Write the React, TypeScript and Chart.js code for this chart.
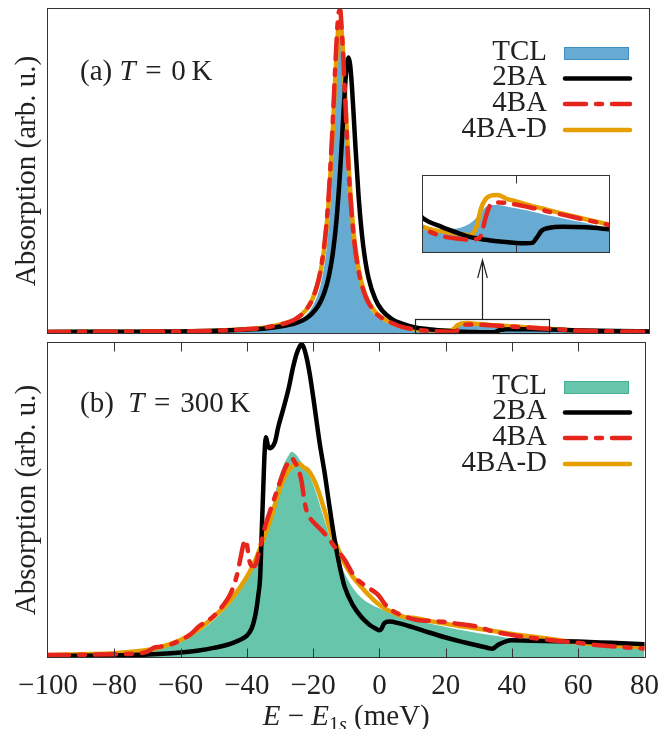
import React, { useEffect, useRef } from 'react';
import { Chart, registerables } from 'chart.js';
Chart.register(...registerables);

// ---------------- DATA ----------------
// Panel (a): T = 0 K  (energy grid in meV, absorption in arb. units)
const aE = [-100, -80, -60, -50, -40, -35, -30, -26, -23, -21, -19, -18, -17, -16, -15, -14.5, -14, -13.5, -13, -12.5, -12, -11.5, -11, -10.5, -10, -9.5, -9, -8.5, -8, -7, -6, -5, -4, -2, 0, 3, 6, 10, 14, 18, 20, 21.5, 22.5, 23.5, 24.5, 26, 28, 30, 32, 33.5, 34.5, 35.5, 37, 40, 45, 50, 60, 70, 80];
const aTCL = [0.002, 0.003, 0.004, 0.006, 0.010, 0.014, 0.021, 0.0328, 0.0528, 0.0779, 0.125, 0.165, 0.225, 0.319, 0.465, 0.563, 0.674, 0.789, 0.883, 0.929, 0.908, 0.83, 0.721, 0.606, 0.502, 0.414, 0.343, 0.286, 0.241, 0.175, 0.132, 0.102, 0.0813, 0.0547, 0.0392, 0.0258, 0.0182, 0.0105, 0.0105, 0.0114, 0.0137, 0.0173, 0.0209, 0.0236, 0.0249, 0.0249, 0.024, 0.0229, 0.0218, 0.0209, 0.0202, 0.0195, 0.0186, 0.017, 0.0141, 0.011, 0.006, 0.005, 0.004];
const a2BA = [0.003, 0.004, 0.005, 0.007, 0.011, 0.014, 0.021, 0.030, 0.043, 0.0589, 0.085, 0.105, 0.132, 0.17, 0.225, 0.262, 0.306, 0.36, 0.425, 0.502, 0.589, 0.68, 0.765, 0.827, 0.85, 0.827, 0.765, 0.68, 0.589, 0.425, 0.306, 0.225, 0.17, 0.105, 0.0702, 0.043, 0.0289, 0.017, 0.0119, 0.0078, 0.006, 0.0051, 0.0047, 0.0042, 0.0038, 0.0033, 0.0029, 0.0024, 0.0022, 0.0024, 0.0056, 0.0096, 0.0112, 0.0119, 0.0116, 0.0105, 0.008, 0.006, 0.005];
const a4BA = [0.003, 0.004, 0.005, 0.007, 0.012, 0.017, 0.027, 0.042, 0.068, 0.101, 0.163, 0.216, 0.295, 0.414, 0.591, 0.70, 0.814, 0.915, 0.985, 0.997, 0.932, 0.836, 0.723, 0.612, 0.513, 0.429, 0.361, 0.305, 0.259, 0.192, 0.147, 0.116, 0.093, 0.063, 0.046, 0.031, 0.019, 0.011, 0.0065, 0.0047, 0.0042, 0.0047, 0.0069, 0.0177, 0.0249, 0.0263, 0.026, 0.0251, 0.024, 0.0231, 0.0227, 0.022, 0.0209, 0.0191, 0.016, 0.013, 0.007, 0.005, 0.004];
const a4BAD = [0.003, 0.004, 0.005, 0.007, 0.012, 0.017, 0.027, 0.042, 0.0675, 0.0996, 0.16, 0.21, 0.285, 0.398, 0.565, 0.668, 0.778, 0.877, 0.946, 0.964, 0.924, 0.84, 0.734, 0.625, 0.527, 0.442, 0.372, 0.314, 0.268, 0.199, 0.152, 0.119, 0.0955, 0.065, 0.047, 0.031, 0.02, 0.0119, 0.0092, 0.0076, 0.0069, 0.0119, 0.0231, 0.0285, 0.0303, 0.0308, 0.0285, 0.027, 0.0254, 0.0242, 0.0236, 0.0229, 0.0218, 0.0197, 0.0164, 0.0133, 0.007, 0.005, 0.004];

// Inset / zoom window of panel (a)
const zoomX = [10, 50];
const zoomY = [-0.003, 0.042];
const insetTicks = [30];

// Panel (b): T = 300 K
const bTclE = [-100, -90, -80, -70, -65, -60, -55, -50, -45, -40, -37, -35, -32.5, -30.5, -29, -27.5, -26.5, -25.5, -24.5, -23, -21.5, -20.5, -19, -17, -14.6, -12.5, -10.5, -8, -5, -2, 0, 3, 5.4, 10, 15, 19.4, 25, 30, 35, 39.4, 45, 50, 59.3, 70, 80];
const bTclV = [0.005, 0.008, 0.011, 0.02, 0.032, 0.048, 0.077, 0.117, 0.17, 0.245, 0.315, 0.37, 0.47, 0.564, 0.61, 0.64, 0.654, 0.648, 0.635, 0.61, 0.585, 0.564, 0.52, 0.45, 0.373, 0.315, 0.266, 0.22, 0.185, 0.165, 0.155, 0.142, 0.134, 0.12, 0.107, 0.097, 0.085, 0.076, 0.068, 0.06, 0.054, 0.05, 0.045, 0.04, 0.035];
const b2baE = [-100, -90, -80, -70, -60, -55, -50, -45, -42, -40, -38.5, -37.5, -37, -36.5, -36, -35.5, -35, -34.6, -34.2, -33.7, -33, -32.5, -31.5, -30.5, -29, -27.5, -26, -25, -24, -23.5, -23, -22, -21, -20, -18, -16.5, -15, -13.5, -12, -10.5, -8, -5.5, -3, -1, 0, 0.5, 1.5, 3, 6, 10, 15, 20, 25, 30, 33, 34, 35, 36, 38, 40, 45, 50, 60, 70, 80];
const b2baV = [0.004, 0.004, 0.005, 0.008, 0.014, 0.02, 0.029, 0.042, 0.055, 0.068, 0.092, 0.13, 0.16, 0.2, 0.25, 0.40, 0.55, 0.66, 0.70, 0.675, 0.665, 0.667, 0.685, 0.733, 0.79, 0.85, 0.925, 0.965, 0.99, 0.995, 0.99, 0.955, 0.9, 0.83, 0.68, 0.585, 0.475, 0.373, 0.29, 0.224, 0.165, 0.128, 0.103, 0.09, 0.085, 0.088, 0.108, 0.113, 0.107, 0.095, 0.078, 0.062, 0.048, 0.036, 0.028, 0.026, 0.032, 0.040, 0.049, 0.053, 0.052, 0.051, 0.049, 0.045, 0.041];
const b4baE = [-100, -90, -80, -74, -71, -69.5, -68, -66, -62.5, -60, -57, -54.5, -50, -47.5, -45, -43, -42, -41, -40.5, -40, -39.3, -38.5, -37.7, -36, -34.5, -32.5, -30.5, -28.5, -27, -26.5, -25.5, -24.5, -23.5, -22.5, -21.5, -21, -19.5, -17.5, -15.5, -13.5, -10.5, -7.5, -4, -0.6, 2.4, 5.4, 8, 11.4, 15, 19.4, 24, 29.4, 34.4, 39, 44.4, 50, 55, 59.3, 64, 69.3, 74, 80];
const b4baV = [0.006, 0.007, 0.009, 0.011, 0.014, 0.02, 0.03, 0.033, 0.042, 0.054, 0.072, 0.097, 0.13, 0.16, 0.2, 0.26, 0.31, 0.36, 0.373, 0.36, 0.31, 0.29, 0.29, 0.35, 0.415, 0.48, 0.542, 0.6, 0.628, 0.633, 0.62, 0.60, 0.56, 0.49, 0.45, 0.443, 0.425, 0.404, 0.38, 0.351, 0.31, 0.256, 0.225, 0.2, 0.16, 0.139, 0.128, 0.118, 0.115, 0.112, 0.105, 0.097, 0.081, 0.072, 0.063, 0.056, 0.05, 0.046, 0.04, 0.035, 0.031, 0.027];
const b4badE = [-100, -90, -80, -70, -65, -60, -55, -50, -45, -40, -37, -35, -32.5, -30.5, -28.5, -26.5, -25, -24, -23, -21.5, -20, -18.5, -16.5, -14.5, -12.5, -10.5, -8, -5.5, -3, -0.6, 2.4, 5, 7.4, 11.4, 15, 19.4, 24, 29.4, 35, 40, 44.4, 50, 55, 59.3, 65, 70, 75, 80];
const b4badV = [0.006, 0.009, 0.012, 0.022, 0.035, 0.054, 0.085, 0.128, 0.18, 0.255, 0.32, 0.375, 0.45, 0.521, 0.575, 0.605, 0.615, 0.614, 0.605, 0.595, 0.57, 0.532, 0.465, 0.392, 0.345, 0.298, 0.255, 0.224, 0.195, 0.171, 0.15, 0.138, 0.128, 0.123, 0.115, 0.107, 0.099, 0.091, 0.082, 0.073, 0.067, 0.06, 0.053, 0.046, 0.041, 0.037, 0.034, 0.031];

// Axis / labels
const xMin = -100;
const xMax = 80;
const xStep = 20;
const xTickValues = [-80, -60, -40, -20, 0, 20, 40, 60];
const legendLabels = ['TCL', '2BA', '4BA', '4BA-D'];
const yTitle = 'Absorption (arb. u.)';
const panelALabel: [string, boolean][] = [['(a) ', false], ['T', true], ['\u2004=\u20040\u2009K', false]];
const panelBLabel: [string, boolean][] = [['(b)  ', false], ['T', true], ['\u2004=\u2004300\u2009K', false]];

// ---------------- STYLE ----------------
const SERIF = '"Liberation Serif", "Times New Roman", Times, serif';
const FS = 29;
const TEXT = '#222222';
const FRAME = '#333333';
const C_TCL_A = '#67aad2';
const C_TCL_A_B = '#3f8fc4';
const C_TCL_B = '#66c5ab';
const C_TCL_B_B = '#45b192';
const C_RED = '#e6261c';
const C_ORANGE = '#e69f00';
const C_BLACK = '#000000';
const LW = 4.5;
const RED_DASH = [21, 10, 6, 10];

function pts(E: number[], V: number[]) {
  return E.map((x, i) => ({ x, y: V[i] }));
}

function datasets(tcl: any[], tclColor: string, ba2: any[], ba4: any[], ba4d: any[]) {
  const base = { pointRadius: 0, pointHoverRadius: 0, cubicInterpolationMode: 'monotone' as const };
  return [
    { ...base, label: '4BA', data: ba4, borderColor: C_RED, borderWidth: LW, borderDash: RED_DASH, borderCapStyle: 'round', fill: false, order: 0 },
    { ...base, label: '2BA', data: ba2, borderColor: C_BLACK, borderWidth: LW, borderCapStyle: 'round', borderJoinStyle: 'round', fill: false, order: 1 },
    { ...base, label: '4BA-D', data: ba4d, borderColor: C_ORANGE, borderWidth: LW, borderCapStyle: 'round', fill: false, order: 2 },
    { ...base, label: 'TCL', data: tcl, borderColor: 'rgba(0,0,0,0)', borderWidth: 0, backgroundColor: tclColor, fill: 'start', order: 3 },
  ];
}

function drawMixed(ctx: CanvasRenderingContext2D, parts: [string, boolean][], x: number, y: number, size: number) {
  let cx = x;
  for (const [t, it] of parts) {
    ctx.font = `${it ? 'italic ' : ''}${size}px ${SERIF}`;
    ctx.fillText(t, cx, y);
    cx += ctx.measureText(t).width;
  }
}

type Decor = {
  ticks?: number[];
  tickLen?: number;
  legend?: { fill: string; border: string };
  label?: [string, boolean][];
  labelY?: number;
  zoom?: boolean;
  xTitle?: boolean;
};

const LEG_OFFS = [44.5, 69.5, 95, 121];

function decorPlugin(d: Decor) {
  return {
    id: 'decor',
    afterDatasetsDraw(chart: any) {
      const { ctx, chartArea: a, scales } = chart;
      const xs = scales.x;
      const ys = scales.y;
      ctx.save();
      ctx.setLineDash([]);
      ctx.strokeStyle = FRAME;
      ctx.lineWidth = 1;
      const L = Math.round(a.left) - 0.5;
      const T = Math.round(a.top) - 0.5;
      const R = Math.round(a.right) + 0.5;
      const B = Math.round(a.bottom) + 0.5;
      ctx.strokeRect(L, T, R - L, B - T);
      if (d.ticks) {
        const len = d.tickLen || 9;
        ctx.beginPath();
        for (const v of d.ticks) {
          const px = Math.round(xs.getPixelForValue(v)) + 0.5;
          ctx.moveTo(px, T); ctx.lineTo(px, T + len);
          ctx.moveTo(px, B); ctx.lineTo(px, B - len);
        }
        ctx.stroke();
      }
      if (d.zoom) {
        const x0 = xs.getPixelForValue(zoomX[0]);
        const x1 = xs.getPixelForValue(zoomX[1]);
        const yt = ys.getPixelForValue(zoomY[1]);
        ctx.strokeStyle = '#222';
        ctx.lineWidth = 1.2;
        ctx.strokeRect(Math.round(x0) + 0.5, Math.round(yt) + 0.5, Math.round(x1 - x0), Math.round(a.bottom - yt));
        const ax = Math.round(xs.getPixelForValue(insetTicks[0])) + 0.5;
        const tip = 260;
        ctx.beginPath();
        ctx.moveTo(ax, yt); ctx.lineTo(ax, tip);
        ctx.moveTo(ax - 4.8, tip + 18); ctx.lineTo(ax, tip); ctx.lineTo(ax + 4.8, tip + 18);
        ctx.stroke();
      }
      if (d.legend) {
        ctx.fillStyle = TEXT;
        ctx.textAlign = 'right';
        ctx.textBaseline = 'alphabetic';
        ctx.font = `${FS}px ${SERIF}`;
        legendLabels.forEach((n, i) => ctx.fillText(n, 547, a.top + LEG_OFFS[i] + 6.5));
        const cy0 = a.top + LEG_OFFS[0];
        ctx.fillStyle = d.legend.fill;
        ctx.fillRect(564, cy0 - 6.5, 65, 13);
        ctx.strokeStyle = d.legend.border;
        ctx.lineWidth = 1;
        ctx.strokeRect(564.5, cy0 - 6, 64, 12);
        const line = (i: number, color: string, dash: number[]) => {
          const cy = a.top + LEG_OFFS[i];
          ctx.beginPath();
          ctx.setLineDash(dash);
          ctx.lineCap = 'round';
          ctx.strokeStyle = color;
          ctx.lineWidth = LW;
          ctx.moveTo(565, cy); ctx.lineTo(630, cy);
          ctx.stroke();
        };
        line(1, C_BLACK, []);
        line(2, C_RED, RED_DASH);
        line(3, C_ORANGE, []);
        ctx.setLineDash([]);
      }
      if (d.label) {
        ctx.fillStyle = TEXT;
        ctx.textAlign = 'left';
        ctx.textBaseline = 'alphabetic';
        drawMixed(ctx, d.label, 80, d.labelY || 0, FS);
      }
      if (d.xTitle) {
        ctx.fillStyle = TEXT;
        ctx.textAlign = 'left';
        ctx.textBaseline = 'alphabetic';
        const parts: [string, string, number][] = [
          ['E', `italic ${FS}px ${SERIF}`, 0],
          [' \u2212 ', `${FS}px ${SERIF}`, 0],
          ['E', `italic ${FS}px ${SERIF}`, 0],
          ['1', `20px ${SERIF}`, 6],
          ['s', `italic 20px ${SERIF}`, 6],
          [' (meV)', `${FS}px ${SERIF}`, 0],
        ];
        let w = 0;
        for (const [t, f] of parts) { ctx.font = f; w += ctx.measureText(t).width; }
        let cx = (a.left + a.right) / 2 - w / 2;
        const by = 387;
        for (const [t, f, dy] of parts) {
          ctx.font = f;
          ctx.fillText(t, cx, by + dy);
          cx += ctx.measureText(t).width;
        }
      }
      ctx.restore();
    },
  };
}

function yAxis(min: number, max: number, show: boolean) {
  return {
    type: 'linear' as const,
    min, max,
    display: show,
    ticks: { display: false },
    grid: { display: false },
    border: { display: false },
    title: { display: show, text: yTitle, color: TEXT, font: { family: SERIF, size: FS }, padding: { top: 10, bottom: 0 } },
    afterFit: (s: any) => { if (show) s.width = 48; },
  };
}

export default function App() {
  const refA = useRef<HTMLCanvasElement>(null);
  const refB = useRef<HTMLCanvasElement>(null);
  const refI = useRef<HTMLCanvasElement>(null);

  useEffect(() => {
    const common = {
      animation: false as const,
      responsive: false,
      maintainAspectRatio: false,
      events: [] as any[],
      plugins: { legend: { display: false }, tooltip: { enabled: false } },
    };

    const chartA = new Chart(refA.current!, {
      type: 'line',
      data: { datasets: datasets(pts(aE, aTCL), C_TCL_A, pts(aE, a2BA), pts(aE, a4BA), pts(aE, a4BAD)) as any },
      options: {
        ...common,
        layout: { padding: { top: 9, right: 14, bottom: 5, left: 0 } },
        scales: {
          x: { type: 'linear', min: xMin, max: xMax, display: false },
          y: yAxis(0, 1, true),
        },
      } as any,
      plugins: [decorPlugin({ legend: { fill: C_TCL_A, border: C_TCL_A_B }, label: panelALabel, labelY: 80, zoom: true })],
    });

    const chartB = new Chart(refB.current!, {
      type: 'line',
      data: { datasets: datasets(pts(bTclE, bTclV), C_TCL_B, pts(b2baE, b2baV), pts(b4baE, b4baV), pts(b4badE, b4badV)) as any },
      options: {
        ...common,
        layout: { padding: { top: 5, right: 14, bottom: 0, left: 0 } },
        scales: {
          x: {
            type: 'linear', min: xMin, max: xMax,
            grid: { display: false },
            border: { display: false },
            ticks: {
              stepSize: xStep, autoSkip: false, maxRotation: 0, padding: 4, color: TEXT,
              font: { family: SERIF, size: FS },
              callback: (v: any) => String(v).replace('-', '\u2212'),
            },
            afterFit: (s: any) => { s.height = 72; },
          },
          y: yAxis(0, 1, true),
        },
      } as any,
      plugins: [decorPlugin({ ticks: xTickValues, tickLen: 9, legend: { fill: C_TCL_B, border: C_TCL_B_B }, label: panelBLabel, labelY: 412 - 338, xTitle: true })],
    });

    const chartI = new Chart(refI.current!, {
      type: 'line',
      data: { datasets: datasets(pts(aE, aTCL), C_TCL_A, pts(aE, a2BA), pts(aE, a4BA), pts(aE, a4BAD)) as any },
      options: {
        ...common,
        layout: { padding: 1 },
        scales: {
          x: { type: 'linear', min: zoomX[0], max: zoomX[1], display: false },
          y: { type: 'linear', min: zoomY[0], max: zoomY[1], display: false },
        },
      } as any,
      plugins: [decorPlugin({ ticks: insetTicks, tickLen: 8 })],
    });

    return () => { chartA.destroy(); chartB.destroy(); chartI.destroy(); };
  }, []);

  return (
    <div style={{ position: 'absolute', left: 0, top: 0, width: 663, height: 729, background: '#ffffff', overflow: 'hidden' }}>
      <canvas ref={refA} width={663} height={338} style={{ position: 'absolute', left: 0, top: 0, width: 663, height: 338 }} />
      <canvas ref={refB} width={663} height={391} style={{ position: 'absolute', left: 0, top: 338, width: 663, height: 391 }} />
      <canvas ref={refI} width={188} height={78} style={{ position: 'absolute', left: 422, top: 175, width: 188, height: 78, background: '#ffffff' }} />
    </div>
  );
}
